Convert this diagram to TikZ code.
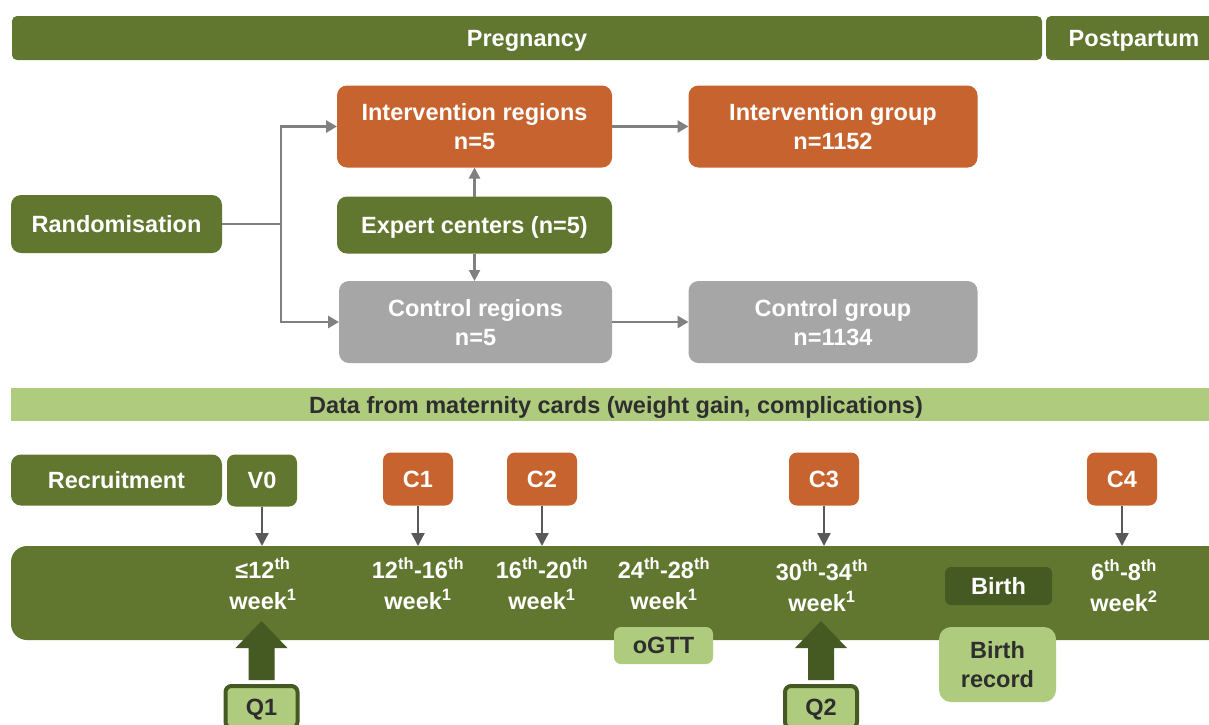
\documentclass[tikz,border=0pt]{standalone}
\usepackage{fontspec}
\setmainfont{Liberation Sans}
\usetikzlibrary{arrows.meta}
\definecolor{dgreen}{HTML}{61762F}
\definecolor{orng}{HTML}{C7632E}
\definecolor{gry}{HTML}{A6A6A6}
\definecolor{lgreen}{HTML}{AFCB7E}
\definecolor{vdgreen}{HTML}{445A22}
\definecolor{conn}{HTML}{808080}
\definecolor{cdark}{HTML}{595959}
\definecolor{txtdark}{HTML}{2E2E2E}
\begin{document}
\begin{tikzpicture}[x=1pt,y=-1pt,
  base/.style={inner sep=0pt, outer sep=0pt, align=center, text depth=0pt, font=\fontsize{23.5}{29}\selectfont\bfseries},
  box/.style={base, rounded corners=10pt, text=white},
  greenbox/.style={box, fill=dgreen},
  orangebox/.style={box, fill=orng},
  greybox/.style={box, fill=gry},
  lightbox/.style={base, rounded corners=9pt, fill=lgreen, text=txtdark},
  qbox/.style={base, rounded corners=6pt, fill=lgreen, draw=vdgreen, line width=4pt, text=txtdark},
  wklabel/.style={base, text=white, font=\fontsize{23.5}{31}\selectfont\bfseries},
  conarrow/.style={draw=conn, line width=2.8pt, -{Triangle[length=11pt,width=12pt]}},
  conline/.style={draw=conn, line width=2.8pt},
  smallarrow/.style={draw=conn, line width=2.2pt, -{Triangle[length=11pt,width=11pt]}},
  downarrow/.style={draw=cdark, line width=2.2pt, -{Triangle[length=13pt,width=13pt]}},
  blockarrow/.style={fill=vdgreen}
]
\useasboundingbox (0,0) rectangle (1209,724);

% header bars
\node[greenbox, rounded corners=5pt, minimum width=1030pt, minimum height=44pt] (preg) at (527,38) {Pregnancy};
\node[greenbox, rounded corners=5pt, minimum width=176pt, minimum height=44pt] (post) at (1134,38) {Postpartum};

% randomisation flow
\node[greenbox, minimum width=211pt, minimum height=58pt] (rand) at (116.5,224) {Randomisation};
\node[orangebox, minimum width=275pt, minimum height=82pt] (ireg) at (474.5,126.5) {Intervention regions\\n=5};
\node[greenbox, minimum width=275pt, minimum height=57pt] (exp) at (474.5,225) {Expert centers (n=5)};
\node[greybox, minimum width=273pt, minimum height=82pt] (creg) at (475.5,322) {Control regions\\n=5};
\node[orangebox, minimum width=289pt, minimum height=82pt] (igrp) at (833,126.5) {Intervention group\\n=1152};
\node[greybox, minimum width=289pt, minimum height=82pt] (cgrp) at (833,322) {Control group\\n=1134};

\draw[conline] (rand.east) -- ++(59,0) coordinate (split);
\draw[conarrow] (split) |- (ireg.west);
\draw[conarrow] (split) |- (creg.west);
\draw[conarrow] (ireg.east) -- (igrp.west);
\draw[conarrow] (creg.east) -- (cgrp.west);
\draw[smallarrow] (exp.north) -- (ireg.south);
\draw[smallarrow] (exp.south) -- (exp.south |- creg.north);

% data bar
\node[base, fill=lgreen, text=txtdark, minimum width=1211pt, minimum height=33pt] (data) at (616,404.5) {Data from maternity cards (weight gain, complications)};

% timeline
\node[greenbox, rounded corners=16pt, minimum width=1219pt, minimum height=94pt] (tl) at (620.5,593) {};

\node[greenbox, minimum width=211pt, minimum height=51pt] (recr) at (116.5,480) {Recruitment};
\node[greenbox, rounded corners=8pt, minimum width=70pt, minimum height=52pt] (v0) at (262,480.5) {V0};
\node[orangebox, rounded corners=8pt, minimum width=70pt, minimum height=53pt] (c1) at (418,479) {C1};
\node[orangebox, rounded corners=8pt, minimum width=70pt, minimum height=53pt] (c2) at (542,479) {C2};
\node[orangebox, rounded corners=8pt, minimum width=70pt, minimum height=53pt] (c3) at (824,479) {C3};
\node[orangebox, rounded corners=8pt, minimum width=70pt, minimum height=53pt] (c4) at (1122,479) {C4};

\foreach \n in {v0,c1,c2,c3,c4}{
  \draw[downarrow] (\n.south) -- (\n.south |- tl.north);
}

\node[wklabel] (w1) at (263,584) {≤12\textsuperscript{th}\\week\textsuperscript{1}};
\node[wklabel] (w2) at (418,584) {12\textsuperscript{th}-16\textsuperscript{th}\\week\textsuperscript{1}};
\node[wklabel] (w3) at (542,584) {16\textsuperscript{th}-20\textsuperscript{th}\\week\textsuperscript{1}};
\node[wklabel] (w4) at (664,584) {24\textsuperscript{th}-28\textsuperscript{th}\\week\textsuperscript{1}};
\node[wklabel] (w5) at (822,586) {30\textsuperscript{th}-34\textsuperscript{th}\\week\textsuperscript{1}};
\node[wklabel] (w6) at (1124,586) {6\textsuperscript{th}-8\textsuperscript{th}\\week\textsuperscript{2}};

\node[base, rounded corners=6pt, fill=vdgreen, text=white, minimum width=107pt, minimum height=38pt] (birth) at (998.5,586) {Birth};
\node[lightbox, rounded corners=7pt, minimum width=99pt, minimum height=37pt] (ogtt) at (663.5,645.5) {oGTT};
\node[lightbox, rounded corners=12pt, minimum width=117pt, minimum height=75pt] (brec) at (997.5,664.5) {Birth\\record};

% questionnaires
\node[qbox, minimum width=72pt, minimum height=42pt] (q1) at (261.5,707) {Q1};
\node[qbox, minimum width=72pt, minimum height=42pt] (q2) at (821,707) {Q2};

\foreach \q in {q1,q2}{
  \fill[blockarrow] (\q.north) ++(-13,-6) -- ++(0,-32) -- ++(-13,0) -- ++(26,-27) -- ++(26,27) -- ++(-13,0) -- ++(0,32) -- cycle;
}
\end{tikzpicture}
\end{document}
